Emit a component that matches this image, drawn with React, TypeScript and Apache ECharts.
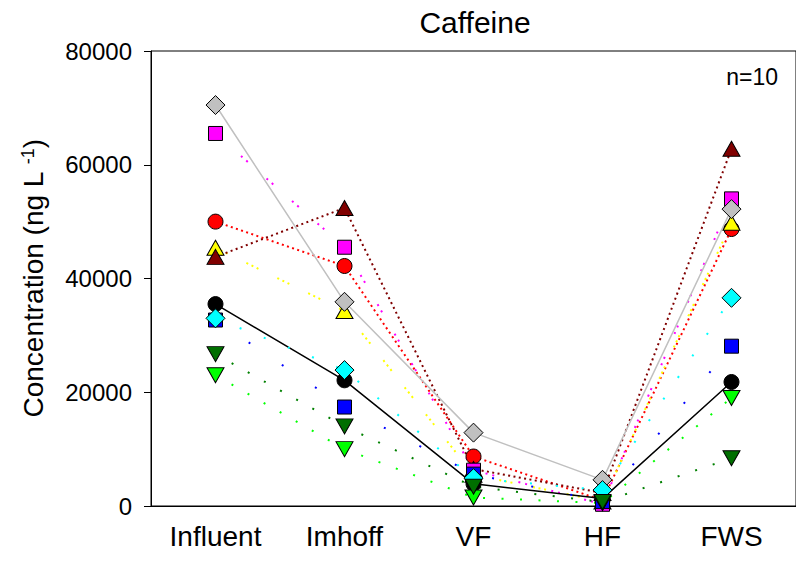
import React, { useEffect, useRef } from "react";
import * as echarts from "echarts";

const categories = ["Influent", "Imhoff", "VF", "HF", "FWS"];
const yTicks = [0, 20000, 40000, 60000, 80000];

const grayVals = [70500, 35900, 12900, 4600, 52200];
const magentaVals = [65500, 45500, 6300, 300, 54000];
const redVals = [50000, 42200, 8700, 1000, 48700];
const yellowVals = [45400, 34300, 5500, 800, 49800];
const darkRedVals = [43800, 52400, 6500, 2300, 62800];
const blackVals = [35500, 22100, 3900, 1300, 21800];
const cyanVals = [33000, 23900, 4900, 2800, 36600];
const blueVals = [32700, 17400, 5600, 800, 28100];
const darkGreenVals = [26700, 14000, 3400, 700, 8400];
const limeVals = [23000, 10000, 1500, 500, 19000];

const FONT = "Liberation Sans, Arial, Helvetica, sans-serif";

type S = {
  name: string;
  data: number[];
  color: string;
  lineColor: string;
  dash: number[] | "solid";
  lineWidth: number;
  symbol: string;
  size: number | number[];
  rotate?: number;
};

// drawing order (last on top)
const samples: S[] = [
  { name: "red", data: redVals, color: "#ff0000", lineColor: "#ff0000", dash: [2, 3.4], lineWidth: 2, symbol: "circle", size: 15 },
  { name: "yellow", data: yellowVals, color: "#ffff00", lineColor: "#ffff00", dash: [2, 3.7, 2, 3.7, 2, 21], lineWidth: 2, symbol: "triangle", size: [17, 15] },
  { name: "darkred", data: darkRedVals, color: "#800000", lineColor: "#800000", dash: [2, 3.4], lineWidth: 2, symbol: "triangle", size: [17, 15] },
  { name: "magenta", data: magentaVals, color: "#ff00ff", lineColor: "#ff00ff", dash: [2, 5, 2, 25], lineWidth: 2, symbol: "rect", size: 14 },
  { name: "gray", data: grayVals, color: "#c0c0c0", lineColor: "#c0c0c0", dash: "solid", lineWidth: 1.5, symbol: "diamond", size: 19 },
  { name: "black", data: blackVals, color: "#000000", lineColor: "#000000", dash: "solid", lineWidth: 1.5, symbol: "circle", size: 15 },
  { name: "blue", data: blueVals, color: "#0000ff", lineColor: "#0000ff", dash: [2, 38], lineWidth: 2, symbol: "rect", size: 14 },
  { name: "cyan", data: cyanVals, color: "#00ffff", lineColor: "#00ffff", dash: [2, 24], lineWidth: 2, symbol: "diamond", size: 19 },
  { name: "lime", data: limeVals, color: "#00ff00", lineColor: "#00ff00", dash: [2, 16.5], lineWidth: 2, symbol: "triangle", size: [17, 15], rotate: 180 },
  { name: "darkgreen", data: darkGreenVals, color: "#006f00", lineColor: "#008000", dash: [2, 16.5], lineWidth: 2, symbol: "triangle", size: [17, 15], rotate: 180 },
];

export default function App() {
  const ref = useRef<HTMLDivElement>(null);
  useEffect(() => {
    if (!ref.current) return;
    const chart = echarts.init(ref.current, undefined, { renderer: "svg" });
    const lineSeries = samples.map((s) => ({
      type: "line",
      name: s.name + "-line",
      data: s.data,
      symbol: "none",
      z: 2,
      silent: true,
      lineStyle: { color: s.lineColor, width: s.lineWidth, type: s.dash },
    }));
    const scatterSeries = samples.map((s, i) => ({
      type: "scatter",
      name: s.name,
      data: s.data,
      symbol: s.symbol,
      symbolSize: s.size,
      symbolRotate: s.rotate || 0,
      z: 3 + i * 0.01,
      itemStyle: { color: s.color, borderColor: "#000", borderWidth: 1, opacity: 1 },
    }));
    chart.setOption({
      animation: false,
      backgroundColor: "#fff",
      grid: {
        left: 151,
        top: 51,
        width: 648,
        height: 455,
        show: true,
        borderColor: "#000",
        borderWidth: 1,
        backgroundColor: "transparent",
      },
      xAxis: {
        type: "category",
        data: categories,
        boundaryGap: true,
        axisLine: { lineStyle: { color: "#000", width: 1 } },
        axisTick: { alignWithLabel: true, length: 8, lineStyle: { color: "#000" } },
        axisLabel: { color: "#000", fontSize: 28, fontFamily: FONT, margin: 16 },
        splitLine: { show: false },
      },
      yAxis: {
        type: "value",
        min: yTicks[0],
        max: yTicks[yTicks.length - 1],
        interval: yTicks[1] - yTicks[0],
        axisLine: { show: true, lineStyle: { color: "#000", width: 1 } },
        axisTick: { show: true, length: 7, lineStyle: { color: "#000" } },
        axisLabel: {
          color: "#000",
          fontSize: 24,
          fontFamily: FONT,
          margin: 19,
          formatter: (v: number) => String(v),
        },
        splitLine: { show: false },
        name: "Concentration (ng L {sup|-1})",
        nameLocation: "middle",
        nameGap: 104,
        nameTextStyle: {
          color: "#000",
          fontSize: 28,
          fontFamily: FONT,
          rich: {
            sup: { fontSize: 18, fontFamily: FONT, color: "#000", verticalAlign: "top", padding: [0, 0, 10, 0] },
          },
        },
      },
      graphic: [
        {
          type: "text",
          x: 475,
          y: 22,
          style: { text: "Caffeine", font: `30px ${FONT}`, fill: "#000", textAlign: "center", textVerticalAlign: "middle" },
        },
        {
          type: "text",
          x: 778,
          y: 77,
          style: { text: "n=10", font: `23px ${FONT}`, fill: "#000", textAlign: "right", textVerticalAlign: "middle" },
        },
      ],
      series: [...lineSeries, ...scatterSeries],
    });
    return () => chart.dispose();
  }, []);
  return (
    <div
      ref={ref}
      style={{ position: "fixed", left: 0, top: 0, width: 796, height: 561, background: "#fff" }}
    />
  );
}
